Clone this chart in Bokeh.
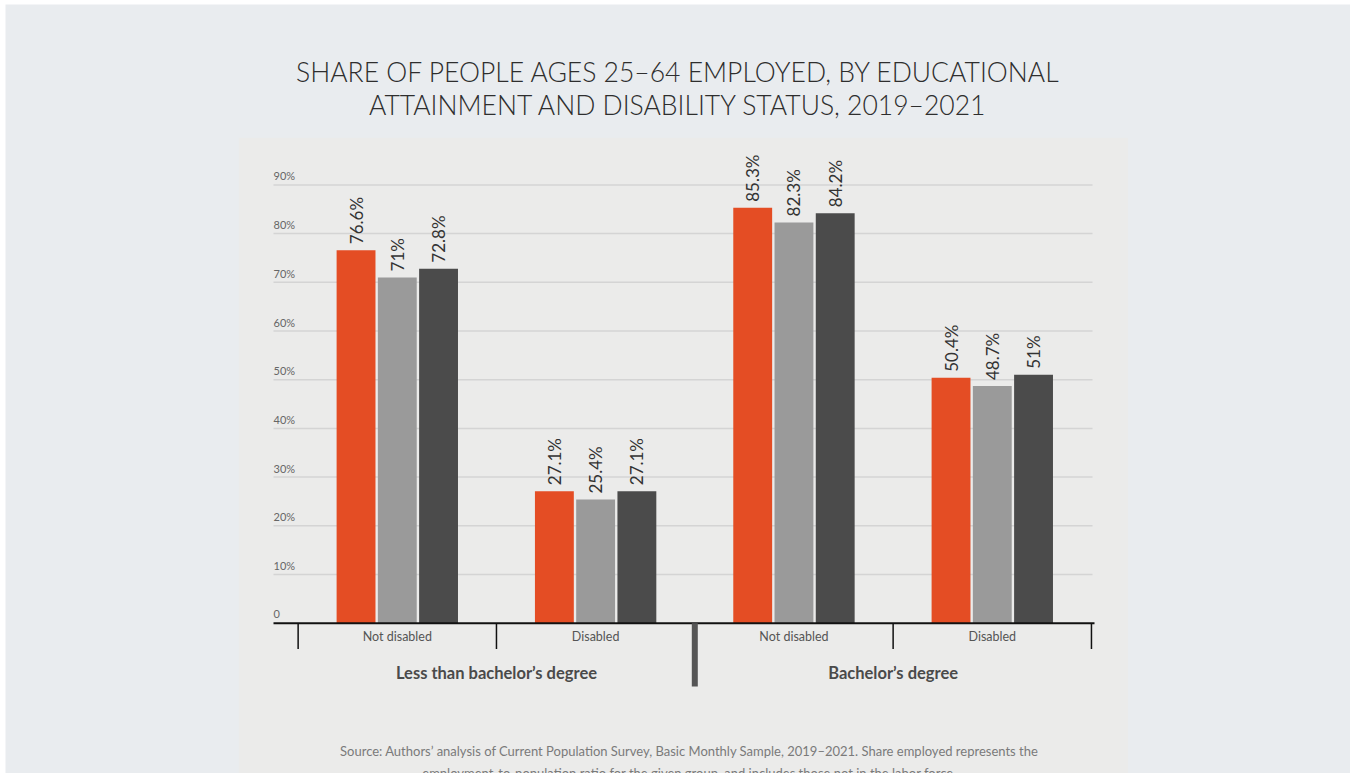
import math
from bokeh.plotting import figure
from bokeh.models import ColumnDataSource, Range1d
from bokeh.core.properties import value
from bokeh.embed import file_html
from bokeh.resources import INLINE

# ---------------- data ----------------
education = ["Less than bachelor’s degree", "Bachelor’s degree"]
status = ["Not disabled", "Disabled", "Not disabled", "Disabled"]
years = ["2019", "2020", "2021"]
share_2019 = [76.6, 27.1, 85.3, 50.4]
share_2020 = [71.0, 25.4, 82.3, 48.7]
share_2021 = [72.8, 27.1, 84.2, 51.0]
label_2019 = ["76.6%", "27.1%", "85.3%", "50.4%"]
label_2020 = ["71%", "25.4%", "82.3%", "48.7%"]
label_2021 = ["72.8%", "27.1%", "84.2%", "51%"]
y_ticks = [0, 10, 20, 30, 40, 50, 60, 70, 80, 90]
y_tick_labels = ["0", "10%", "20%", "30%", "40%", "50%", "60%", "70%", "80%", "90%"]
title_lines = ["SHARE OF PEOPLE AGES 25–64 EMPLOYED, BY EDUCATIONAL",
               "ATTAINMENT AND DISABILITY STATUS, 2019–2021"]
source_lines = ["Source: Authors’ analysis of Current Population Survey, Basic Monthly Sample, 2019–2021. Share employed represents the",
                "employment-to-population ratio for the given group, and includes those not in the labor force."]

# ---------------- styles ----------------
OUTER = "#e9ecef"
PANEL = "#ebebea"
COLORS = ["#e44d24", "#9a9a9a", "#4b4b4b"]
W, H = 1345, 769
PX0, PY0 = 5, 4                  # page offset of the figure
X0PX, XSTEP = 396.8, 198.33      # group 0 centre, spacing (page px)
Y0PX, YSTEP = 622.7, 4.87        # zero line, px per percent

def px2x(px):
    return (px - X0PX) / XSTEP

def py2y(py):
    return (Y0PX - py) / YSTEP

p = figure(width=W, height=H,
           x_range=Range1d(px2x(PX0), px2x(PX0 + W)),
           y_range=Range1d(py2y(PY0 + H), py2y(PY0)),
           x_axis_type=None, y_axis_type=None,
           toolbar_location=None, tools="", output_backend="svg",
           min_border=0, background_fill_color=OUTER, border_fill_color=OUTER,
           outline_line_color=None, margin=(PY0, 0, 0, PX0))

# inner panel
p.quad(left=[px2x(238.3)], right=[px2x(1127.5)], top=[py2y(137.3)], bottom=[py2y(800)],
       fill_color=PANEL, line_color=None)

# gridlines
left_edge = px2x(273)
right_edge = px2x(1092)
grid_y = y_ticks[1:]
p.segment(x0=[left_edge] * len(grid_y), x1=[right_edge] * len(grid_y), y0=grid_y, y1=grid_y,
          line_color="#d4d4d4", line_width=1.5)

# y tick labels
p.text(x=[left_edge] * len(y_ticks), y=y_ticks, text=y_tick_labels,
       text_font=value("Lato"), text_font_size="11px", text_color="#666666",
       text_align="left", text_baseline="middle", y_offset=-9)

# bars
n = len(status)
step, bw = 0.208, 0.196
offsets = [-step, 0.0, step]
series = [share_2019, share_2020, share_2021]
series_labels = [label_2019, label_2020, label_2021]
for k in range(3):
    xs = [i + offsets[k] for i in range(n)]
    src = ColumnDataSource(dict(x=xs, top=series[k], lab=series_labels[k]))
    p.vbar(x="x", top="top", bottom=0, width=bw, source=src,
           fill_color=COLORS[k], line_color=None)
    p.text(x="x", y="top", text="lab", source=src, angle=math.pi / 2,
           text_font=value("Lato"), text_font_size="17px", text_color="#333333",
           text_align="left", text_baseline="middle", y_offset=-6)

# x axis baseline
p.segment(x0=[left_edge], x1=[px2x(1094)], y0=[0], y1=[0], line_color="#111111", line_width=2)

# category separators
thin_sep = [-0.5, 0.5, 2.5, 3.5]
p.segment(x0=thin_sep, x1=thin_sep, y0=[0] * 4, y1=[py2y(648.5)] * 4,
          line_color="#111111", line_width=1.5)
p.segment(x0=[1.5], x1=[1.5], y0=[0], y1=[py2y(686)], line_color="#555555", line_width=6)

# status labels
p.text(x=list(range(n)), y=[py2y(636)] * n, text=status,
       text_font=value("Lato"), text_font_size="12.5px", text_color="#555555",
       text_align="center", text_baseline="middle")

# education group labels
p.text(x=[0.5, 2.5], y=[py2y(672.5)] * 2, text=education,
       text_font=value("Lato"), text_font_style="bold", text_font_size="16.5px",
       text_color="#4a4a4a", text_align="center", text_baseline="middle")

# title
p.text(x=[px2x(678)] * 2, y=[py2y(71), py2y(104)], text=title_lines,
       text_font=value("Lato Light"), text_font_size="26.5px", text_color="#2e2e2e",
       text_align="center", text_baseline="middle")

# source note
p.text(x=[px2x(689)] * 2, y=[py2y(750.5), py2y(772.5)], text=source_lines,
       text_font=value("Lato"), text_font_size="13px", text_color="#7a7a7a",
       text_align="center", text_baseline="middle")

open("out.html", "w").write(file_html(p, INLINE))
